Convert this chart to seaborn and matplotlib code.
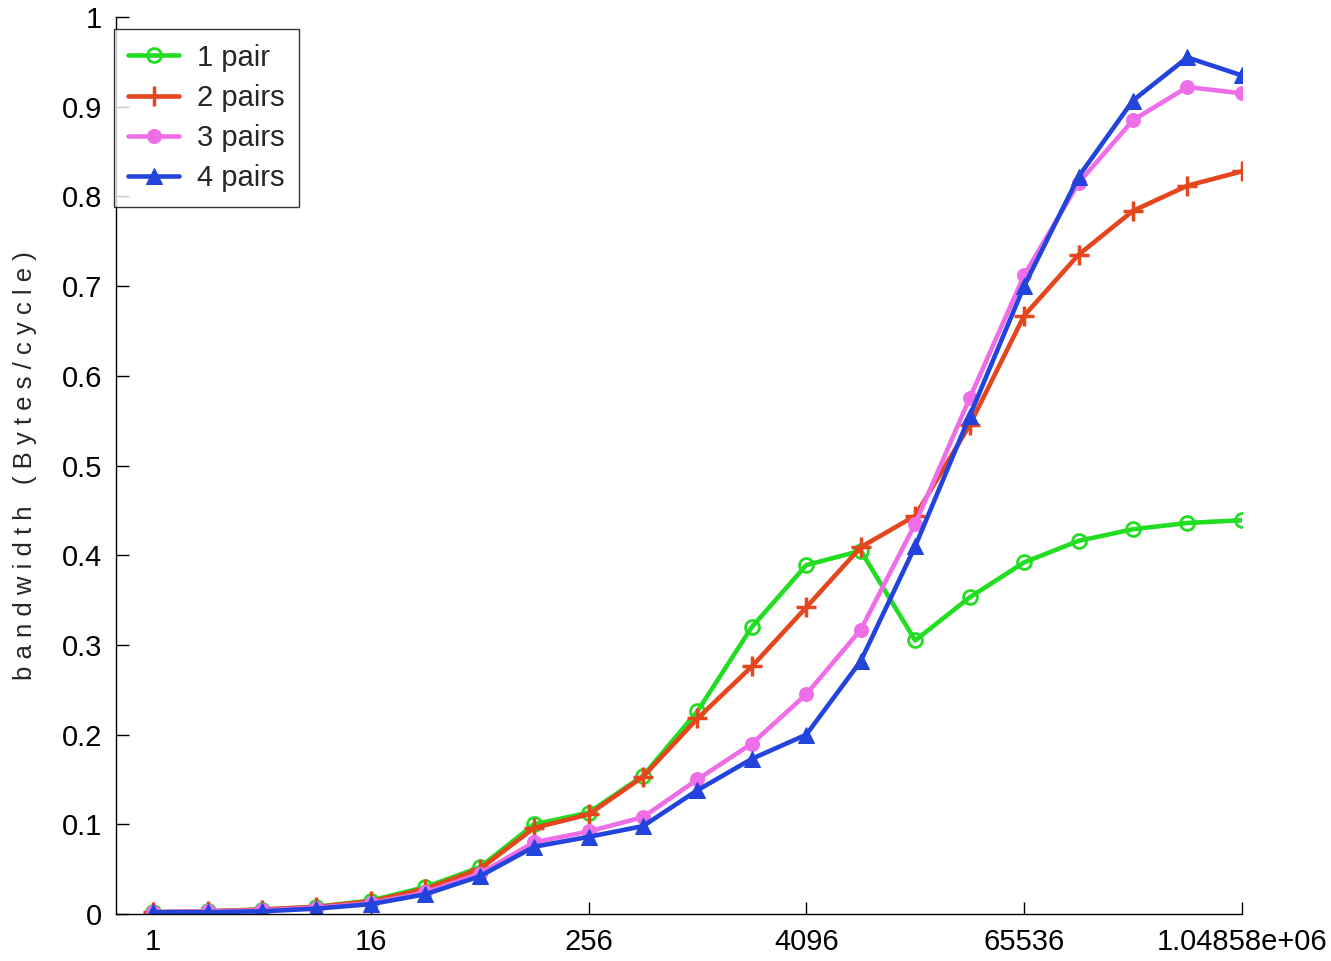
import numpy as np
import pandas as pd
import matplotlib
matplotlib.use("Agg")
import matplotlib.pyplot as plt
import seaborn as sns

# message sizes 2^0 .. 2^20
sizes = [2 ** i for i in range(21)]

one_pair = [0.002, 0.003, 0.005, 0.008, 0.015, 0.030, 0.052, 0.100, 0.113, 0.154, 0.226,
            0.320, 0.389, 0.405, 0.305, 0.353, 0.392, 0.416, 0.429, 0.436, 0.439]
two_pairs = [0.002, 0.003, 0.005, 0.008, 0.014, 0.028, 0.050, 0.096, 0.111, 0.153, 0.218,
             0.276, 0.342, 0.409, 0.444, 0.545, 0.667, 0.735, 0.784, 0.812, 0.828]
three_pairs = [0.002, 0.003, 0.004, 0.007, 0.012, 0.024, 0.045, 0.080, 0.092, 0.108, 0.150,
               0.190, 0.245, 0.317, 0.435, 0.575, 0.712, 0.815, 0.885, 0.922, 0.915]
four_pairs = [0.002, 0.002, 0.003, 0.006, 0.011, 0.022, 0.042, 0.075, 0.086, 0.098, 0.138,
              0.173, 0.200, 0.282, 0.410, 0.555, 0.700, 0.822, 0.907, 0.955, 0.935]

labels = ["1 pair", "2 pairs", "3 pairs", "4 pairs"]
xticks = [1, 16, 256, 4096, 65536, 1048576]
xticklabels = ["1", "16", "256", "4096", "65536", "1.04858e+06"]

sns.set_style("white")
plt.rcParams["font.family"] = ["Liberation Sans", "DejaVu Sans"]

fig = plt.figure(figsize=(13.31, 9.61), dpi=100)
ax = fig.add_axes([0.0872, 0.0489, 0.8458, 0.9333])

green, red, pink, blue = "#22dd22", "#e6461e", "#ee6ee8", "#2244dd"
styles = [
    dict(color=green, marker="o", markerfacecolor="none", markeredgecolor=green, markersize=10, markeredgewidth=2),
    dict(color=red, marker="+", markersize=14, markeredgecolor=red, markeredgewidth=2.5),
    dict(color=pink, marker="o", markersize=10, markerfacecolor=pink, markeredgecolor=pink),
    dict(color=blue, marker="^", markersize=12, markerfacecolor=blue, markeredgecolor=blue),
]

for lab, vals, st in zip(labels, [one_pair, two_pairs, three_pairs, four_pairs], styles):
    df = pd.DataFrame({"size": sizes, "bw": vals})
    sns.lineplot(data=df, x="size", y="bw", ax=ax, label=lab, linewidth=3.3, **st)

ax.set_xscale("log", base=2)
ax.set_xlim(2 ** -0.68, 2 ** 20)
ax.set_ylim(0, 1)
ax.set_xticks(xticks)
ax.set_xticklabels(xticklabels)
ax.minorticks_off()
ax.set_yticks(np.arange(0, 1.01, 0.1))
ax.set_yticklabels(["0", "0.1", "0.2", "0.3", "0.4", "0.5", "0.6", "0.7", "0.8", "0.9", "1"])
ax.tick_params(direction="in", length=9, width=1, labelsize=21, colors="black",
               left=True, bottom=True, pad=10)
ax.set_xlabel("")
ax.set_ylabel("b a n d w i d t h   ( B y t e s / c y c l e )", fontsize=18.5, labelpad=18)

for s in ["top", "right"]:
    ax.spines[s].set_visible(False)
for s in ["left", "bottom"]:
    ax.spines[s].set_color("black")
    ax.spines[s].set_linewidth(1)

leg = ax.legend(loc="upper left", bbox_to_anchor=(-0.002, 0.9866), borderaxespad=0,
                fontsize=21, frameon=True, fancybox=False, edgecolor="black",
                handlelength=1.75, borderpad=0.5, labelspacing=0.42, handletextpad=0.6)
leg.get_frame().set_linewidth(1)

fig.savefig("out.png", dpi=100)
